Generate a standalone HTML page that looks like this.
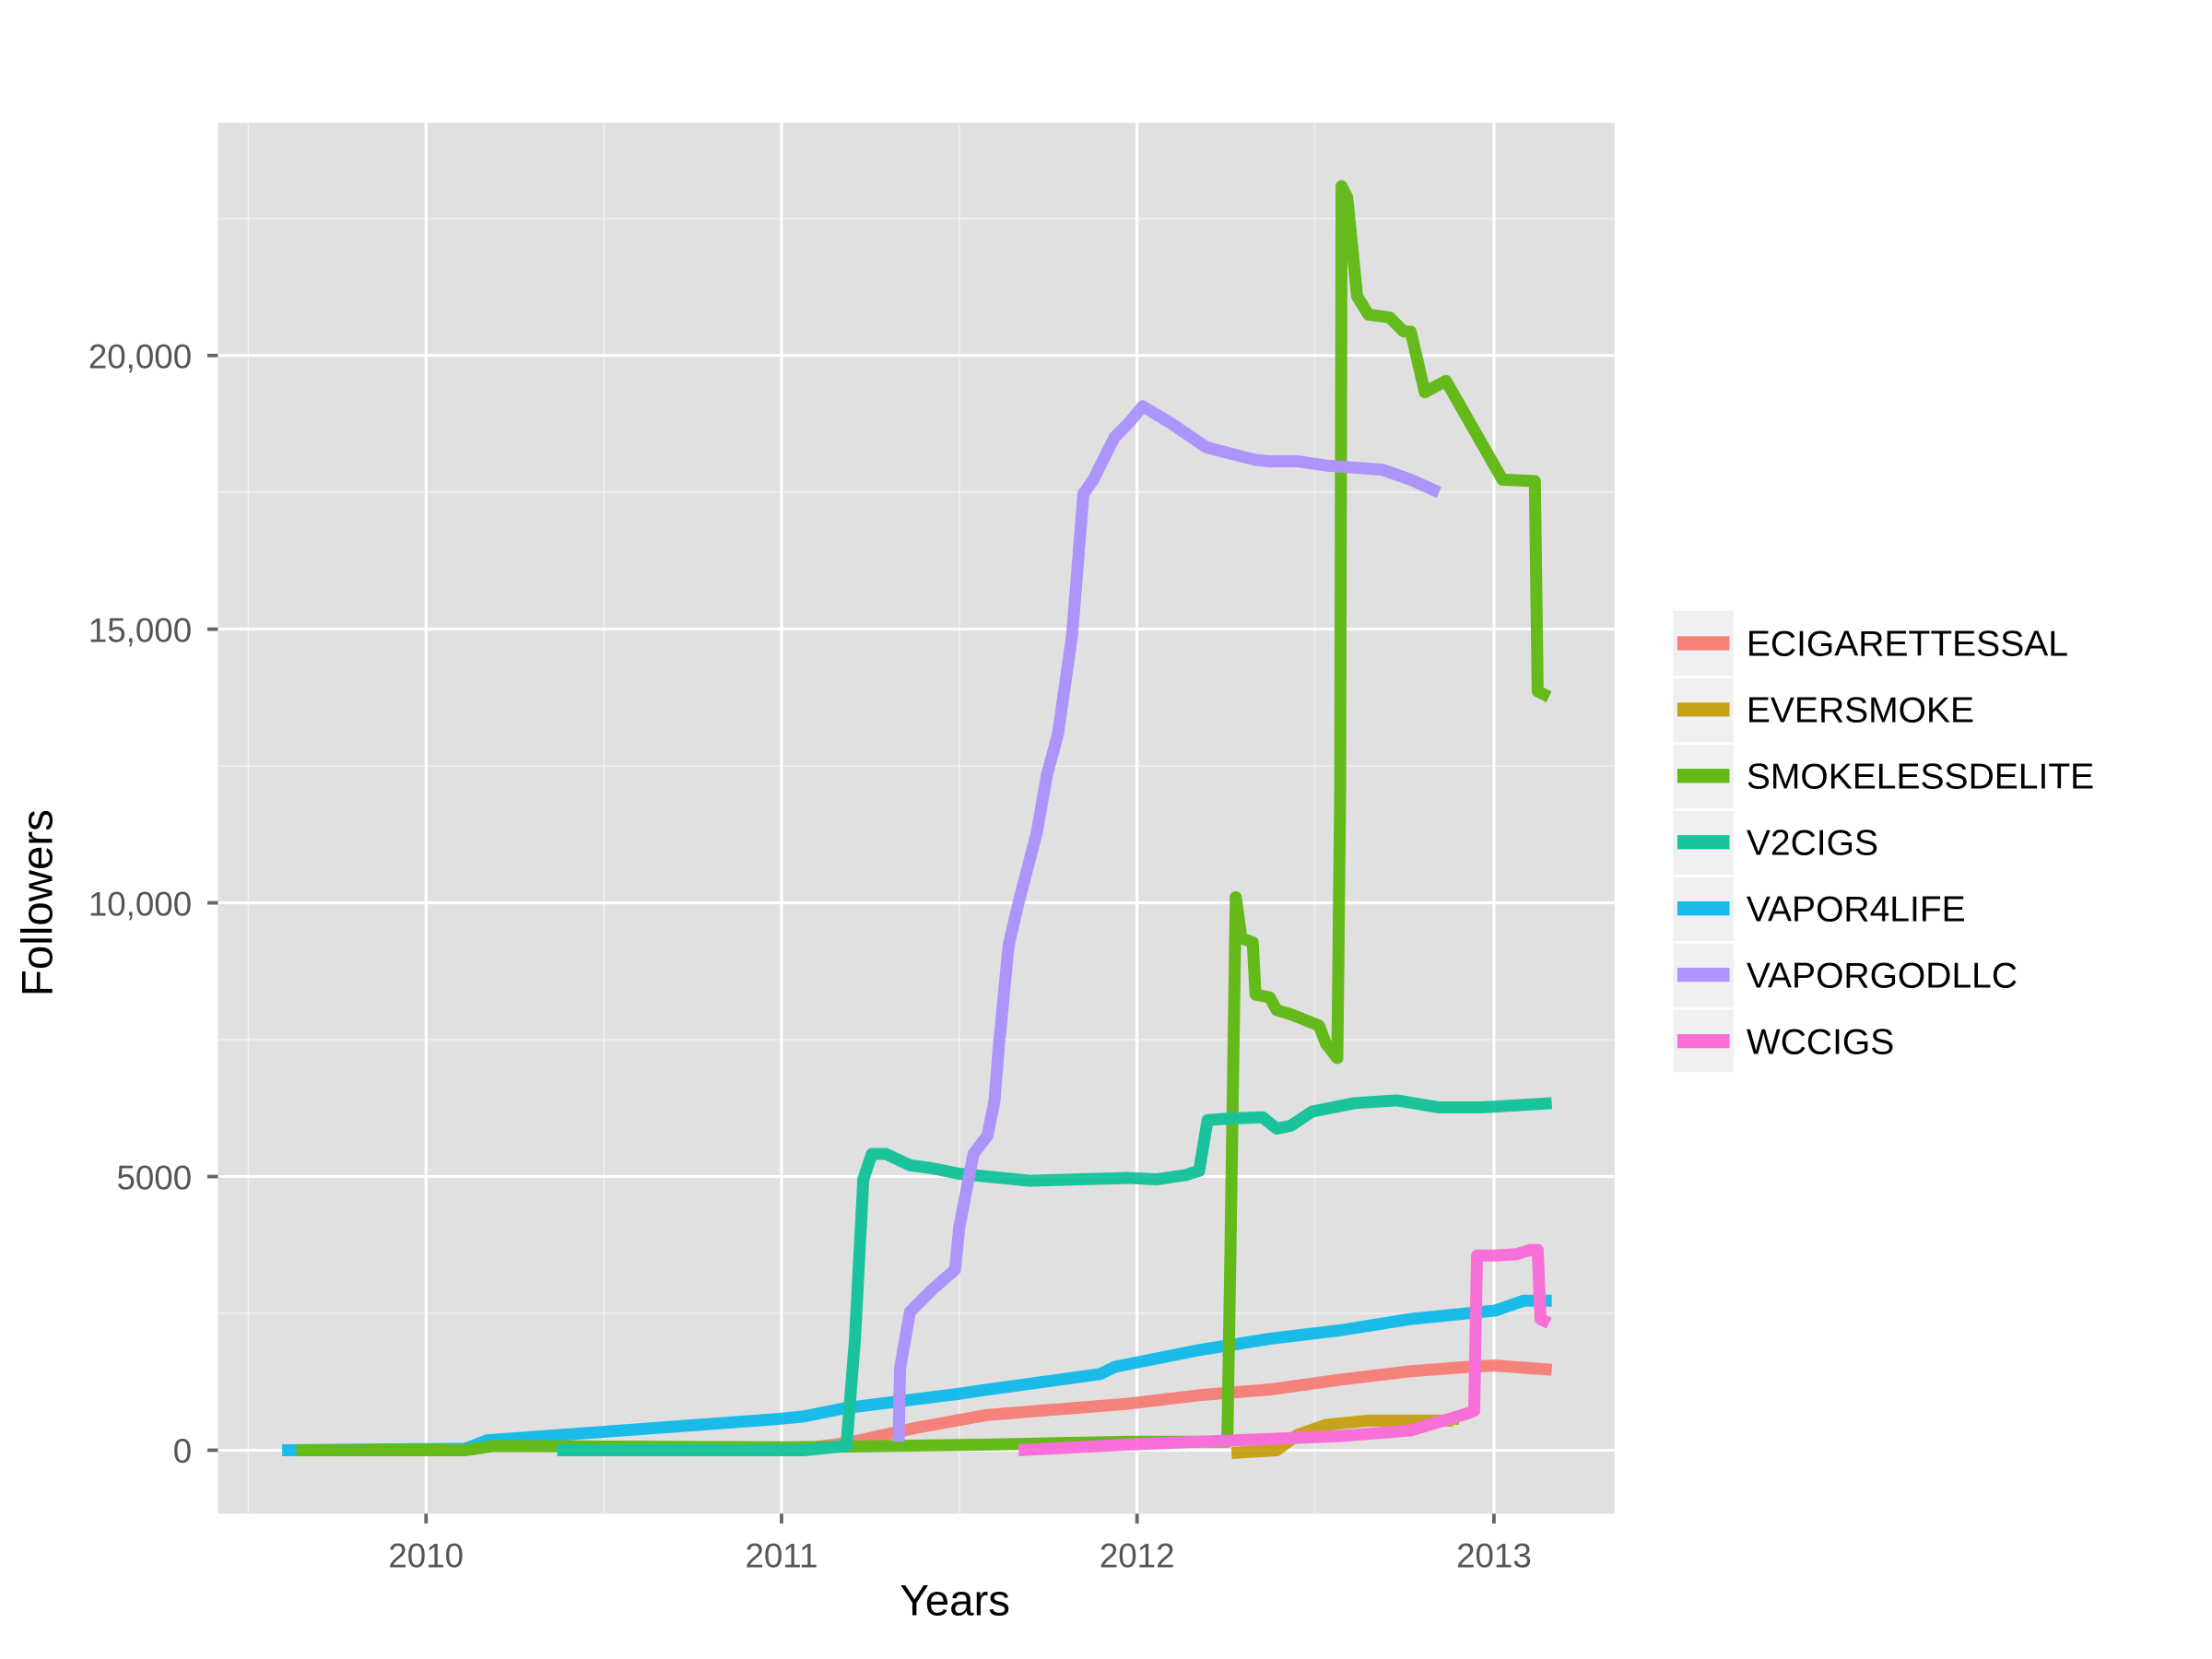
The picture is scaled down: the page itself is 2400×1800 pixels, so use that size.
<!DOCTYPE html>
<html><head><style>html,body{margin:0;padding:0;background:#fff}svg{display:block}</style></head>
<body>
<svg width="2400" height="1800" viewBox="0 0 1568 1176" xmlns="http://www.w3.org/2000/svg" font-family="Liberation Sans, sans-serif">
<rect x="154.5" y="87" width="990" height="986" fill="#E0E0E0"/>
<g stroke="#F0F0F0" stroke-width="1">
<line x1="176" y1="87" x2="176" y2="1073"/><line x1="428" y1="87" x2="428" y2="1073"/><line x1="680" y1="87" x2="680" y2="1073"/><line x1="932" y1="87" x2="932" y2="1073"/>
<line x1="154.5" y1="931" x2="1144.5" y2="931"/><line x1="154.5" y1="737" x2="1144.5" y2="737"/><line x1="154.5" y1="543" x2="1144.5" y2="543"/><line x1="154.5" y1="349" x2="1144.5" y2="349"/><line x1="154.5" y1="155" x2="1144.5" y2="155"/>
</g>
<g stroke="#FFFFFF" stroke-width="2">
<line x1="302" y1="87" x2="302" y2="1073"/><line x1="554" y1="87" x2="554" y2="1073"/><line x1="806" y1="87" x2="806" y2="1073"/><line x1="1059" y1="87" x2="1059" y2="1073"/>
<line x1="154.5" y1="1028" x2="1144.5" y2="1028"/><line x1="154.5" y1="834" x2="1144.5" y2="834"/><line x1="154.5" y1="640" x2="1144.5" y2="640"/><line x1="154.5" y1="446" x2="1144.5" y2="446"/><line x1="154.5" y1="252" x2="1144.5" y2="252"/>
</g>
<g stroke="#666" stroke-width="2.5">
<line x1="302" y1="1073" x2="302" y2="1080"/><line x1="554" y1="1073" x2="554" y2="1080"/><line x1="806" y1="1073" x2="806" y2="1080"/><line x1="1059" y1="1073" x2="1059" y2="1080"/>
<line x1="147" y1="1028" x2="154.5" y2="1028"/><line x1="147" y1="834" x2="154.5" y2="834"/><line x1="147" y1="640" x2="154.5" y2="640"/><line x1="147" y1="446" x2="154.5" y2="446"/><line x1="147" y1="252" x2="154.5" y2="252"/>
</g>
<g fill="#555" font-size="24">
<g text-anchor="middle"><text x="302" y="1111">2010</text><text x="554" y="1111">2011</text><text x="806" y="1111">2012</text><text x="1059" y="1111">2013</text></g>
<g text-anchor="end"><text x="136" y="1037">0</text><text x="136" y="843">5000</text><text x="136" y="649">10,000</text><text x="136" y="455">15,000</text><text x="136" y="261">20,000</text></g>
</g>
<text x="677" y="1145" font-size="31" text-anchor="middle">Years</text>
<text transform="translate(37,640) rotate(-90)" font-size="31" text-anchor="middle">Followers</text>
<g fill="none" stroke-width="8.5" stroke-linejoin="round" opacity="0.88">
<polyline stroke="#00B6EB" points="200,1028 330,1027 345,1021 400,1017 550,1006 570,1004 600,998 680,988 700,985 780,974 790,969 850,957 900,949 950,943 1000,935 1060,929 1080,922 1100,922"/>
<polyline stroke="#F8766D" points="560,1028 600,1023 650,1012 700,1003 800,995 850,989 900,985 950,978 1000,972 1040,969 1060,968 1100,971"/>
<polyline stroke="#C49A00" points="873,1030 905,1028 920,1017 940,1010 970,1007 1030,1007 1030,1010"/>
<polyline stroke="#53B400" points="210,1028 330,1028 350,1025 560,1026 700,1024 800,1022 870,1022 872,900 876,636 880,665 888,668 890,705 900,707 905,716 915,719 935,727 940,740 948,750 950,560 951,132 955,140 962,210 970,223 985,225 995,235 1000,235 1010,278 1025,270 1065,340 1088,341 1090,490 1098,494"/>
<polyline stroke="#00C094" points="395,1028 570,1028 600,1025 606,950 612,836 618,818 628,818 645,826 660,828 680,832 710,835 730,837 800,835 820,836 840,833 850,830 856,794 870,793 895,792 905,800 915,798 930,788 960,782 990,780 1020,785 1050,785 1100,782"/>
<polyline stroke="#A58AFF" points="637,1022 638,970 645,930 660,915 670,906 677,900 680,870 690,818 700,805 705,780 708,742 715,670 722,640 735,590 742,550 750,520 760,450 768,350 775,340 790,310 800,300 810,288 830,300 855,317 870,321 890,326 900,327 920,327 940,330 980,333 1000,340 1020,349"/>
<polyline stroke="#FB61D7" points="722,1028 800,1024 900,1020 950,1018 1000,1014 1040,1002 1045,1000 1047,890 1060,890 1075,889 1085,886 1090,886 1092,935 1098,938"/>
</g>
<g>
<rect x="1186" y="433" width="43" height="327" fill="#F0F0F0"/>
<g stroke="#fff" stroke-width="1.5"><line x1="1186" y1="480" x2="1229" y2="480"/><line x1="1186" y1="527" x2="1229" y2="527"/><line x1="1186" y1="574" x2="1229" y2="574"/><line x1="1186" y1="621" x2="1229" y2="621"/><line x1="1186" y1="668" x2="1229" y2="668"/><line x1="1186" y1="715" x2="1229" y2="715"/></g>
<g stroke-width="10" opacity="0.9">
<line x1="1189" y1="456" x2="1226" y2="456" stroke="#F8766D"/>
<line x1="1189" y1="503" x2="1226" y2="503" stroke="#C49A00"/>
<line x1="1189" y1="550" x2="1226" y2="550" stroke="#53B400"/>
<line x1="1189" y1="597" x2="1226" y2="597" stroke="#00C094"/>
<line x1="1189" y1="644" x2="1226" y2="644" stroke="#00B6EB"/>
<line x1="1189" y1="691" x2="1226" y2="691" stroke="#A58AFF"/>
<line x1="1189" y1="738" x2="1226" y2="738" stroke="#FB61D7"/>
</g>
<g font-size="25.5" fill="#000">
<text x="1238" y="465">ECIGARETTESSAL</text><text x="1238" y="512">EVERSMOKE</text><text x="1238" y="559">SMOKELESSDELITE</text><text x="1238" y="606">V2CIGS</text><text x="1238" y="653">VAPOR4LIFE</text><text x="1238" y="700">VAPORGODLLC</text><text x="1238" y="747">WCCIGS</text>
</g>
</g>
</svg>
</body></html>
